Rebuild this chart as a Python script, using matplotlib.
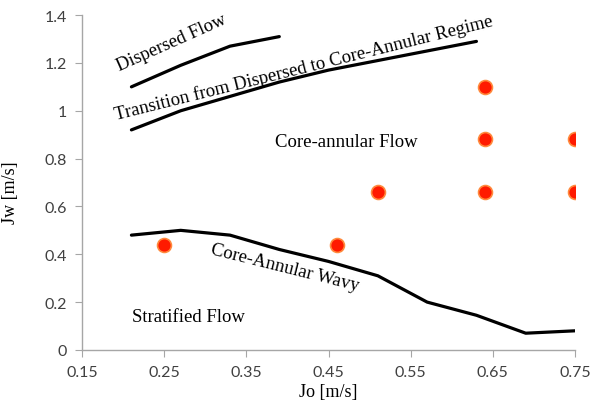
import matplotlib.pyplot as plt

# regime boundaries
jo_disp = [0.21, 0.27, 0.33, 0.39]
jw_disp = [1.10, 1.19, 1.27, 1.31]

jo_trans = [0.21, 0.27, 0.33, 0.39, 0.45, 0.51, 0.57, 0.63]
jw_trans = [0.92, 1.00, 1.06, 1.12, 1.17, 1.21, 1.25, 1.29]

jo_wavy = [0.21, 0.27, 0.33, 0.39, 0.45, 0.51, 0.57, 0.63, 0.69, 0.75]
jw_wavy = [0.48, 0.50, 0.48, 0.42, 0.37, 0.31, 0.20, 0.145, 0.07, 0.08]

# experimental points
jo_exp = [0.25, 0.46, 0.51, 0.64, 0.64, 0.64, 0.75, 0.75]
jw_exp = [0.44, 0.44, 0.66, 1.10, 0.88, 0.66, 0.88, 0.66]

xticks = [0.15, 0.25, 0.35, 0.45, 0.55, 0.65, 0.75]
yticks = [0, 0.2, 0.4, 0.6, 0.8, 1.0, 1.2, 1.4]
ytick_labels = ['0', '0.2', '0.4', '0.6', '0.8', '1', '1.2', '1.4']

serif = 'Liberation Serif'
tickfont = 'Lato'
gray = '#a6a6a6'

fig = plt.figure(figsize=(6.04, 4.02), dpi=100)
ax = fig.add_axes([0.136, 0.127, 0.816, 0.833])

ax.plot(jo_disp, jw_disp, color='black', lw=2.3, solid_capstyle='round')
ax.plot(jo_trans, jw_trans, color='black', lw=2.3, solid_capstyle='round')
ax.plot(jo_wavy, jw_wavy, color='black', lw=2.3, solid_capstyle='round')
ax.plot(jo_exp, jw_exp, 'o', ms=10, color='#ff1a00', mec='#ff8a3d', mew=1.2)

ax.set_xlim(0.15, 0.75)
ax.set_ylim(0, 1.4)
ax.set_xticks(xticks)
ax.set_xticklabels([f'{v:.2f}' for v in xticks])
ax.set_yticks(yticks)
ax.set_yticklabels(ytick_labels)

for s in ['top', 'right']:
    ax.spines[s].set_visible(False)
for s in ['left', 'bottom']:
    ax.spines[s].set_color(gray)
    ax.spines[s].set_linewidth(1.0)
ax.tick_params(direction='out', length=5, color=gray, labelcolor='#404040',
               labelsize=11.5, pad=6)
for lab in ax.get_xticklabels() + ax.get_yticklabels():
    lab.set_fontfamily(tickfont)

ax.set_xlabel('Jo [m/s]', family=serif, fontsize=13, labelpad=3)
ax.set_ylabel('Jw [m/s]', family=serif, fontsize=13)
ax.yaxis.set_label_coords(-0.128, 0.472)

fs = 13.5
ax.text(0.259, 1.285, 'Dispersed Flow', family=serif, fontsize=fs,
        rotation=24, ha='center', va='center')
ax.text(0.42, 1.183, 'Transition from Dispersed to Core-Annular Regime',
        family=serif, fontsize=fs, rotation=14, ha='center', va='center')
ax.text(0.472, 0.87, 'Core-annular Flow', family=serif, fontsize=fs,
        ha='center', va='center')
ax.text(0.397, 0.345, 'Core-Annular Wavy', family=serif, fontsize=fs,
        rotation=-14, ha='center', va='center')
ax.text(0.279, 0.14, 'Stratified Flow', family=serif, fontsize=fs,
        ha='center', va='center')

fig.savefig('out.png', dpi=100)
